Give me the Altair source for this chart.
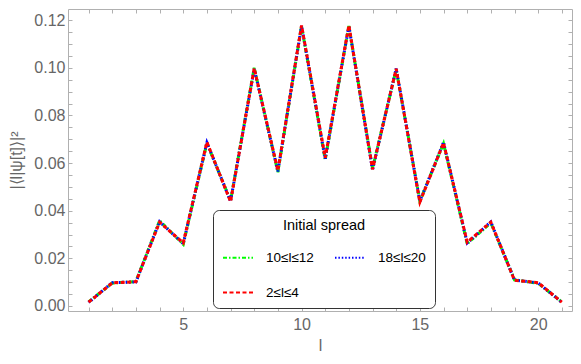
import altair as alt
import pandas as pd

l_values = list(range(1, 22))
spread_labels = ["10≤l≤12", "18≤l≤20", "2≤l≤4"]
series_10_12 = [0.0017, 0.0096, 0.0103, 0.0358, 0.0259, 0.0684, 0.0442, 0.1000, 0.0562, 0.1175, 0.0614,
                0.1176, 0.0578, 0.0993, 0.0441, 0.0682, 0.0262, 0.0349, 0.0110, 0.0095, 0.0017]
series_18_20 = [0.0015, 0.0098, 0.0101, 0.0354, 0.0262, 0.0686, 0.0440, 0.0995, 0.0565, 0.1176, 0.0618,
                0.1175, 0.0571, 0.0997, 0.0439, 0.0687, 0.0265, 0.0353, 0.0109, 0.0097, 0.0015]
series_2_4 = [0.0016, 0.0097, 0.0102, 0.0352, 0.0265, 0.0688, 0.0438, 0.0998, 0.0568, 0.1178, 0.0622,
              0.1178, 0.0574, 0.0996, 0.0436, 0.0685, 0.0268, 0.0352, 0.0108, 0.0098, 0.0016]
colors = ["#00ff00", "#0000ff", "#ff0000"]
dashes = [[4, 2, 1.5, 2], [1.5, 1.9], [4, 2.5]]

x_ticks = list(range(1, 22))
y_ticks = [round(0.005 * k, 3) for k in range(0, 25)]

rows = []
for lab, vals in zip(spread_labels, [series_10_12, series_18_20, series_2_4]):
    for l, v in zip(l_values, vals):
        rows.append({"l": l, "p": v, "spread": lab})
df = pd.DataFrame(rows)

FONT = "Liberation Sans"
GRAY = "#666666"
FRAME = "#b0b0b0"

legend = alt.Legend(
    title="Initial spread", orient="none", legendX=145, legendY=201, direction="horizontal",
    columns=2, symbolType="stroke", symbolSize=900, symbolStrokeWidth=2,
    labelFontSize=13.5, titleFontSize=14.5, titleFontWeight="normal",
    titleAnchor="middle", labelOffset=12, columnPadding=17, rowPadding=12,
    padding=9, strokeColor="#333333", cornerRadius=6, fillColor="white",
    titlePadding=8, labelFont=FONT, titleFont=FONT, labelColor="black", titleColor="black",
)

x_scale = alt.Scale(domain=[0.13, 21.43], nice=False, zero=False)
y_scale = alt.Scale(domain=[-0.0021, 0.1247], nice=False, zero=False)

x_axis_main = alt.Axis(values=x_ticks, title="l", orient="bottom", offset=-4, tickSize=4, domain=False,
                       labelExpr="datum.value % 5 == 0 ? datum.label : ''",
                       titlePadding=5, labelPadding=5)
y_axis_main = alt.Axis(values=y_ticks, title="|⟨l|ψ[t]⟩|²", orient="left", offset=-4, tickSize=4, domain=False,
                       labelExpr="round(datum.value * 200) % 4 == 0 ? format(datum.value, '.2f') : ''",
                       titlePadding=9, labelPadding=3)
x_axis_top = alt.Axis(values=x_ticks, title=None, orient="top", offset=-4, tickSize=4, domain=False, labels=False)
y_axis_right = alt.Axis(values=y_ticks, title=None, orient="right", offset=-4, tickSize=4, domain=False, labels=False)

color_enc = alt.Color("spread:N", scale=alt.Scale(domain=spread_labels, range=colors), legend=legend)
dash_enc = alt.StrokeDash("spread:N", scale=alt.Scale(domain=spread_labels, range=dashes), legend=legend)

layers = []
for i, lab in enumerate(spread_labels):
    xa = x_axis_main if i == 0 else None
    ya = y_axis_main if i == 0 else None
    layers.append(
        alt.Chart(df).transform_filter(alt.datum.spread == lab)
        .mark_line(strokeWidth=3, strokeCap="butt")
        .encode(x=alt.X("l:Q", scale=x_scale, axis=xa),
                y=alt.Y("p:Q", scale=y_scale, axis=ya),
                color=color_enc, strokeDash=dash_enc)
    )

frame_layer = (
    alt.Chart(df).mark_line(opacity=0)
    .encode(x=alt.X("l:Q", scale=x_scale, axis=x_axis_top),
            y=alt.Y("p:Q", scale=y_scale, axis=y_axis_right),
            detail="spread:N")
)

chart = (
    alt.layer(*layers, frame_layer)
    .resolve_axis(x="independent", y="independent")
    .properties(width=504, height=302, padding=0)
    .configure_view(stroke=FRAME, strokeWidth=1)
    .configure_axis(labelFont=FONT, titleFont=FONT, labelFontSize=16, titleFontSize=16,
                    titleFontWeight="normal", labelColor=GRAY, titleColor=GRAY,
                    tickColor=FRAME, grid=False)
)

chart.save("out.html", embed_options={"renderer": "svg", "actions": False})
